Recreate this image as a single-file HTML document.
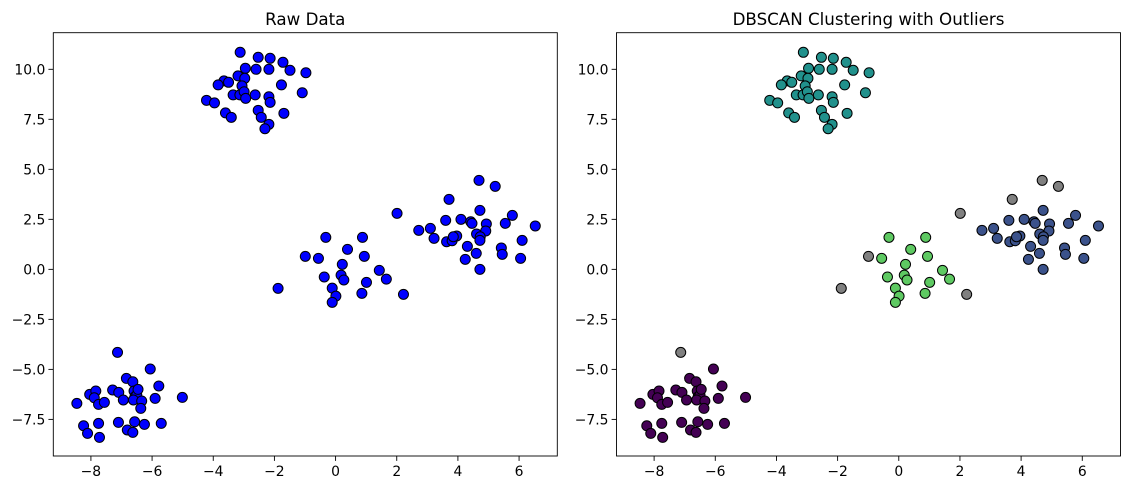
<!DOCTYPE html>
<html><head><meta charset="utf-8"><style>
html,body{margin:0;padding:0;background:#fff;}
svg{display:block;font-family:"DejaVu Sans","Liberation Sans",sans-serif;}
</style></head><body>
<svg id="chart" width="1129" height="490"></svg>
<script>
// cluster 0 (bottom-left)
const c0x=[-8.46,-8.24,-8.11,-8.04,-7.84,-7.89,-7.75,-7.56,-7.75,-7.72,-7.29,-7.09,-6.94,-7.1,-6.84,-6.63,-6.81,-6.63,-6.59,-6.56,-6.5,-6.61,-6.34,-6.37,-6.57,-6.25,-6.06,-5.78,-5.9,-5.7,-5.01,-6.46];
const c0y=[-6.7,-7.82,-8.2,-6.25,-6.08,-6.42,-6.75,-6.65,-7.7,-8.4,-6.03,-6.15,-6.53,-7.65,-5.45,-5.62,-8.03,-8.15,-6.08,-6.37,-6.28,-6.53,-6.58,-6.95,-7.62,-7.75,-4.98,-5.83,-6.45,-7.7,-6.4,-6.0];
// cluster 1 (top)
const c1x=[-3.12,-2.53,-2.14,-1.72,-1.49,-2.95,-2.6,-2.18,-3.19,-2.97,-3.65,-3.5,-3.84,-3.06,-1.77,-3.35,-3.13,-2.99,-2.94,-2.63,-2.18,-2.14,-4.22,-3.96,-3.6,-3.41,-2.53,-2.43,-1.69,-2.18,-2.31,-1.09,-0.97];
const c1y=[10.85,10.6,10.55,10.35,9.95,10.05,10.0,10.0,9.67,9.55,9.42,9.35,9.22,9.17,9.22,8.72,8.72,8.88,8.55,8.72,8.63,8.35,8.45,8.32,7.82,7.6,7.95,7.6,7.8,7.25,7.03,8.83,9.83];
// cluster 2 (center)
const c2x=[-0.32,0.88,0.39,-0.56,0.94,0.22,1.43,-0.37,0.18,0.27,1.66,1.01,-0.11,0.01,-0.11,0.86];
const c2y=[1.6,1.6,1.0,0.55,0.65,0.25,-0.05,-0.38,-0.29,-0.53,-0.49,-0.65,-0.94,-1.34,-1.65,-1.2];
// cluster 3 (right)
const c3x=[4.72,3.6,4.1,4.42,4.46,4.93,5.78,5.55,6.53,2.72,3.1,3.22,3.63,3.81,3.96,3.85,4.61,4.91,4.73,4.72,6.1,4.31,5.42,4.6,5.45,4.24,6.05,4.72];
const c3y=[2.95,2.45,2.5,2.38,2.3,2.27,2.7,2.3,2.17,1.95,2.05,1.55,1.38,1.43,1.67,1.63,1.77,1.92,1.63,1.45,1.45,1.15,1.07,0.8,0.75,0.5,0.55,0.0];
// outliers
const nx=[-1.88,-0.99,2.22,2.01,3.71,4.69,5.22,-7.13];
const ny=[-0.95,0.65,-1.25,2.8,3.5,4.45,4.15,-4.15];
const clusterColors=["#440154","#21918c","#5ec962","#3b528b"];
const noiseColor="#808080";
const xTicks=[-8,-6,-4,-2,0,2,4,6];
const yTicks=[-7.5,-5.0,-2.5,0.0,2.5,5.0,7.5,10.0];
const titles=["Raw Data","DBSCAN Clustering with Outliers"];

const NS="http://www.w3.org/2000/svg";
const svgEl=document.getElementById('chart');
function mk(tag,attrs,parent){const e=document.createElementNS(NS,tag);for(const k in attrs)e.setAttribute(k,attrs[k]);(parent||svgEl).appendChild(e);return e;}
const X0=-9.23,X1=7.25,Y0=-9.33,Y1=11.83;
const panels=[{l:53.3,r:557.3},{l:616.5,r:1120.5}];
const topY=32.7,botY=456;
function sx(p,v){return p.l+(v-X0)/(X1-X0)*(p.r-p.l);}
function sy(v){return botY-(v-Y0)/(Y1-Y0)*(botY-topY);}
const groupsX=[c0x,c1x,c2x,c3x],groupsY=[c0y,c1y,c2y,c3y];

panels.forEach((p,pi)=>{
  const g=mk('g',{});
  
  
  const t=mk('text',{x:(p.l+p.r)/2,y:25,'text-anchor':'middle','font-size':'16.7',fill:'#000'},g);
  t.textContent=titles[pi];
  
  
  xTicks.forEach(v=>{
    const x=sx(p,v);
    const tk=mk('line',{x1:x,x2:x,y1:botY,y2:botY+4.9,stroke:'#000','stroke-width':0.9},g);
    
    
    const tl=mk('text',{x:x,y:botY+20,'text-anchor':'middle','font-size':'13.9',fill:'#000'},g);
    tl.textContent=(v<0?'\u2212':'')+Math.abs(v);
    
    
  });
  yTicks.forEach(v=>{
    const y=sy(v);
    const tk=mk('line',{x1:p.l-4.9,x2:p.l,y1:y,y2:y,stroke:'#000','stroke-width':0.9},g);
    
    
    const tl=mk('text',{x:p.l-8,y:y+5,'text-anchor':'end','font-size':'13.9',fill:'#000'},g);
    tl.textContent=(v<0?'\u2212':'')+Math.abs(v).toFixed(1);
    
    
  });
  function dot(x,y,c){
    const d=mk('circle',{cx:sx(p,x),cy:sy(y),r:5,fill:c,stroke:'#000','stroke-width':1},g);
    
    
  }
  groupsX.forEach((gx,gi)=>gx.forEach((x,i)=>dot(x,groupsY[gi][i],pi===0?'#0000ff':clusterColors[gi])));
  nx.forEach((x,i)=>dot(x,ny[i],pi===0?'#0000ff':noiseColor));
  const fr=mk('rect',{x:p.l,y:topY,width:p.r-p.l,height:botY-topY,fill:'none',stroke:'#000','stroke-width':0.9},g);
  
  
});
</script>
</body></html>
